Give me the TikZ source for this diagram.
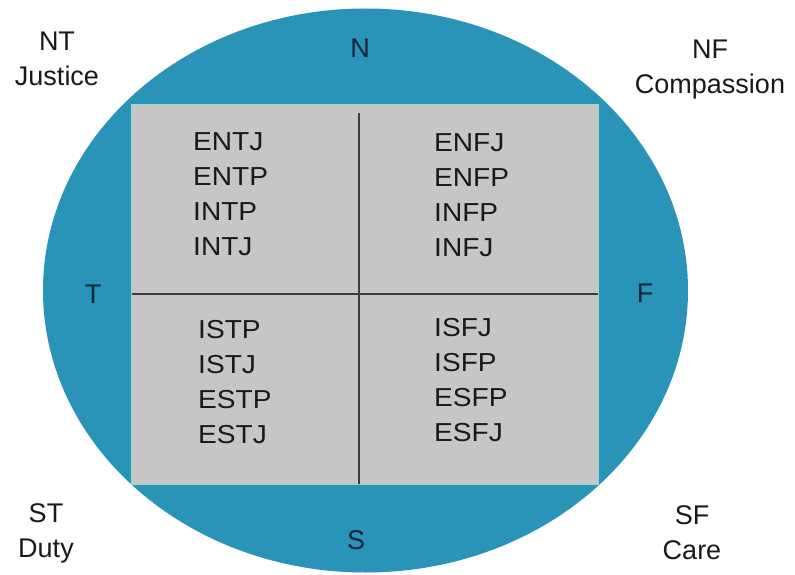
\documentclass[tikz,border=0pt]{standalone}
\usepackage{fontspec}
\setmainfont{Liberation Sans}
\definecolor{ringblue}{RGB}{41,148,184}
\definecolor{boxgray}{RGB}{198,198,198}
\definecolor{divline}{RGB}{60,60,60}
\definecolor{txt}{RGB}{25,25,25}
\definecolor{compass}{RGB}{20,35,55}
\begin{document}
\begin{tikzpicture}[x=1pt,y=-1pt,
  typelabel/.style={anchor=west,inner sep=0pt,text=txt,font=\fontsize{26}{30}\selectfont,xscale=1.08},
  cornerlabel/.style={align=center,inner sep=0pt,text=txt,font=\fontsize{27}{35}\selectfont},
  compasslabel/.style={inner sep=0pt,text=compass,font=\fontsize{27}{30}\selectfont},
  divider/.style={draw=divline,line width=1.2pt}]
\useasboundingbox (0,0) rectangle (795,575);
\fill[ringblue] (365.5,290.5) ellipse [x radius=322.5, y radius=282];
\node (box) [fill=boxgray,draw=boxgray!80!cyan,line width=0.6pt,minimum width=467pt,minimum height=380pt,inner sep=0pt] at (364.5,294) {};
\coordinate (vtop) at (359,113);
\coordinate (vbot) at (359,484);
\coordinate (hleft) at (132,294);
\coordinate (hright) at (598,294);
\draw[divider] (vtop) -- (vbot);
\draw[divider] (hleft) -- (hright);
% type lists
\foreach \t [count=\i] in {ENTJ,ENTP,INTP,INTJ}
  \node (nt\i) [typelabel] at (193,{142+35*(\i-1)}) {\t};
\foreach \t [count=\i] in {ENFJ,ENFP,INFP,INFJ}
  \node (nf\i) [typelabel] at (434,{143+35*(\i-1)}) {\t};
\foreach \t [count=\i] in {ISTP,ISTJ,ESTP,ESTJ}
  \node (st\i) [typelabel] at (198,{330+35*(\i-1)}) {\t};
\foreach \t [count=\i] in {ISFJ,ISFP,ESFP,ESFJ}
  \node (sf\i) [typelabel] at (434,{328+35*(\i-1)}) {\t};
% compass letters
\node (N) [compasslabel] at (360,48) {N};
\node (T) [compasslabel] at (93,294) {T};
\node (F) [compasslabel] at (645,293) {F};
\node (S) [compasslabel] at (356,540) {S};
% corner labels
\node (NT) [cornerlabel] at (57,59) {NT\\Justice};
\node (NF) [cornerlabel] at (710,70) {NF\\Compassion};
\node (ST) [cornerlabel] at (46,533) {ST\\Duty};
\node (SF) [cornerlabel] at (692,533) {SF\\Care};
\end{tikzpicture}
\end{document}
